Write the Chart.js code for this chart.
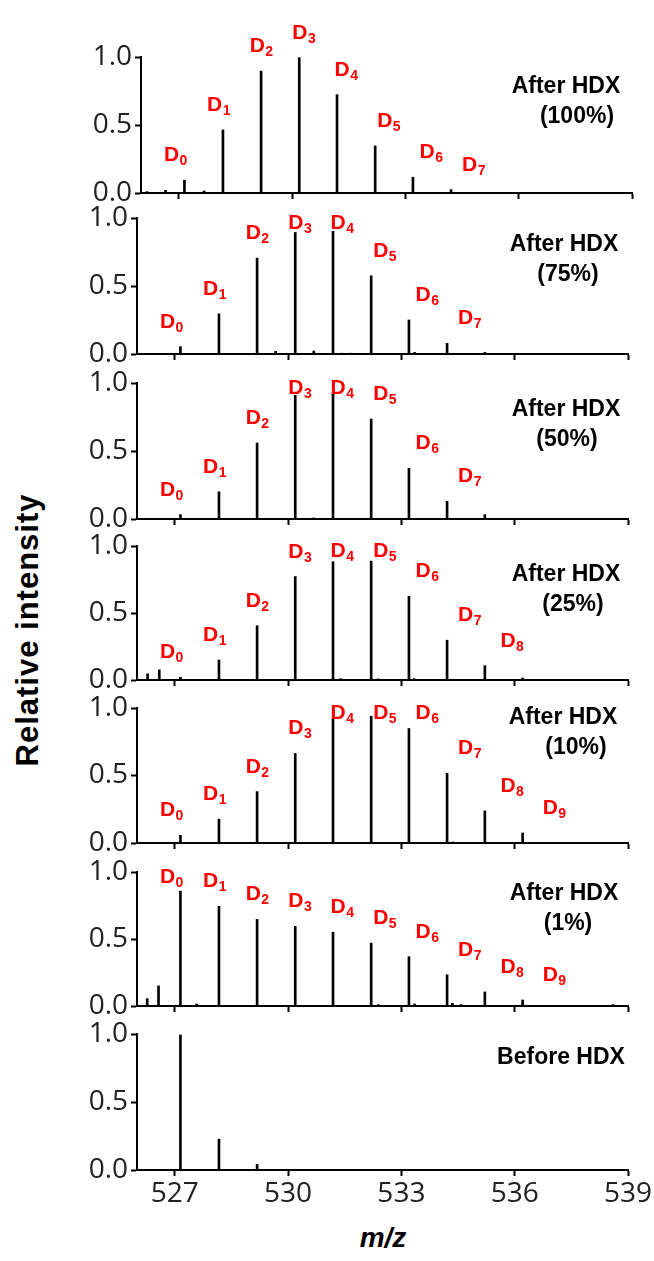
<!DOCTYPE html>
<html lang="en">
<head>
<meta charset="utf-8">
<title>HDX mass spectra</title>
<script src="https://cdn.jsdelivr.net/npm/chart.js"></script>
<style>
  body { margin: 0; background: #fff; }
  #page { position: relative; width: 654px; height: 1261px; overflow: hidden; }
  #page canvas { position: absolute; left: 0; }
  .cap { position: absolute; font: bold 23px "Liberation Sans", Arial, sans-serif; line-height: 30px; white-space: nowrap; color: #000; transform: translateX(-50%); }
  #ytitle { position: absolute; left: 28px; top: 630px; transform: translate(-50%, -50%) rotate(-90deg); font: bold 31px "Liberation Sans", Arial, sans-serif; letter-spacing: 1px; white-space: nowrap; }
  #xtitle { position: absolute; left: 383px; top: 1238px; transform: translate(-50%, -50%); font: italic bold 28px "Liberation Sans", Arial, sans-serif; }
</style>
</head>
<body>
<div id="page">
  <div id="ytitle">Relative intensity</div>
  <div id="xtitle">m/z</div>
</div>
<script>
// axis ticks
const xTicks = [527, 530, 533, 536, 539];
const yTicks = [0, 0.5, 1.0];

// m/z of the D0..D9 isotope peaks
const dMz = [527.15, 528.17, 529.18, 530.19, 531.19, 532.2, 533.2, 534.21, 535.21, 536.21];

// intensities of D0, D1, ... for every spectrum (top to bottom)
const hdx100 = [0.094, 0.464, 0.896, 0.995, 0.723, 0.346, 0.116, 0.025];
const hdx75 = [0.054, 0.295, 0.705, 0.894, 0.902, 0.575, 0.25, 0.079, 0.012];
const hdx50 = [0.032, 0.2, 0.559, 0.909, 0.926, 0.735, 0.373, 0.13, 0.032];
const hdx25 = [0.02, 0.149, 0.405, 0.772, 0.883, 0.887, 0.625, 0.297, 0.107, 0.015];
const hdx10 = [0.057, 0.177, 0.381, 0.663, 0.921, 0.939, 0.848, 0.516, 0.238, 0.074];
const hdx1 = [0.857, 0.744, 0.647, 0.594, 0.551, 0.469, 0.368, 0.233, 0.105, 0.045];
const before = [0.993, 0.227, 0.041];

// small side peaks [m/z, intensity]
const minor100 = [[526.16, 0.01], [526.65, 0.02], [527.67, 0.015], [528.7, 0.004]];
const minor75 = [[529.67, 0.02], [530.68, 0.022], [531.42, 0.006], [531.67, 0.006], [533.35, 0.012]];
const minor50 = [[529.67, 0.004], [530.68, 0.008], [535.7, 0.003], [536.2, 0.003]];
const minor25 = [[526.28, 0.046], [526.59, 0.076], [527.6, 0.005], [531.39, 0.01], [532.39, 0.008], [533.34, 0.01],
                 [534.36, 0.006], [536.42, 0.005], [536.92, 0.005], [537.42, 0.003], [538.24, 0.005], [538.6, 0.005]];
const minor10 = [[531.42, 0.005], [532.42, 0.005], [533.37, 0.005], [534.37, 0.008], [537.21, 0.005]];
const minor1 = [[526.27, 0.055], [526.57, 0.15], [527.58, 0.015], [531.37, 0.005], [532.39, 0.01], [533.35, 0.015],
                [534.35, 0.02], [534.58, 0.01], [537.24, 0.005], [538.24, 0.005], [538.6, 0.01]];
const minorBefore = [[532.17, 0.003]];

const captions = [["After HDX", "(100%)"], ["After HDX", "(75%)"], ["After HDX", "(50%)"], ["After HDX", "(25%)"],
                  ["After HDX", "(10%)"], ["After HDX", "(1%)"], ["Before HDX"]];
const labelCount = [8, 8, 8, 9, 10, 10, 0];

const spectra = [hdx100, hdx75, hdx50, hdx25, hdx10, hdx1, before];
const minors = [minor100, minor75, minor50, minor25, minor10, minor1, minorBefore];

// layout of the panels (pixels)
const oneY = [57, 218, 383, 546, 708, 872, 1034];
const zeroY = [193, 354, 519, 680, 843, 1006, 1170];
const shiftX = [4, 0, 0, 0, 0, 0, 0];
const capPos = [[566, 28, 577], [564, 25, 568], [566, 25, 567], [566, 27, 573], [563, 8, 576], [564, 20, 568], [561, 22]];

const tickFont = { family: '"Open Sans", sans-serif', size: 28 };

// red D0..Dn labels above the isotope peaks
const dLabels = {
  id: 'dLabels',
  afterDatasetsDraw(chart, args, opts) {
    const n = opts.count;
    if (!n) return;
    const { ctx, chartArea } = chart;
    const xs = chart.scales.x, ys = chart.scales.y;
    const big = 'bold 21px "Liberation Sans", Arial, sans-serif';
    const small = 'bold 14px "Liberation Sans", Arial, sans-serif';
    ctx.save();
    ctx.fillStyle = '#ff0000';
    ctx.textBaseline = 'alphabetic';
    for (let k = 0; k < n; k++) {
      const px = xs.getPixelForValue(dMz[k]) - 9 + 4.5 * k;
      let cy = ys.getPixelForValue(opts.values[k]) - 26;
      cy = Math.max(cy, chartArea.top + opts.minTop);
      ctx.font = big;
      const wD = ctx.measureText('D').width;
      ctx.font = small;
      const wS = ctx.measureText(String(k)).width;
      const x0 = px - (wD + wS) / 2;
      const base = cy + 7;
      ctx.font = big;
      ctx.fillText('D', x0, base);
      ctx.font = small;
      ctx.fillText(String(k), x0 + wD + 0.5, base + 4);
    }
    ctx.restore();
  }
};

const page = document.getElementById('page');

spectra.forEach((vals, i) => {
  const last = i === spectra.length - 1;
  const canvasTop = Math.max(0, oneY[i] - 40);
  const padTop = oneY[i] - canvasTop;
  const xH = last ? 40 : 8;
  const padBottom = last ? 2 : 14;
  const h = padTop + (zeroY[i] - oneY[i]) + xH + padBottom;

  const cv = document.createElement('canvas');
  cv.width = 654;
  cv.height = h;
  cv.style.top = canvasTop + 'px';
  page.appendChild(cv);

  const pts = vals.map((v, k) => ({ x: dMz[k], y: v }))
    .concat(minors[i].map(p => ({ x: p[0], y: p[1] })));

  new Chart(cv, {
    type: 'bar',
    data: {
      datasets: [{
        data: pts,
        backgroundColor: '#000',
        borderWidth: 0,
        barThickness: 2
      }]
    },
    options: {
      responsive: false,
      animation: false,
      devicePixelRatio: 1,
      layout: { padding: { top: padTop, right: 26 - shiftX[i], bottom: padBottom, left: 0 } },
      scales: {
        x: {
          type: 'linear',
          min: 526,
          max: 539,
          offset: false,
          afterBuildTicks: s => { s.ticks = xTicks.map(v => ({ value: v })); },
          afterFit: s => { s.height = xH; },
          border: { display: true, color: '#000', width: 2 },
          grid: { display: true, offset: false, drawOnChartArea: false, drawTicks: true, tickLength: 6, tickWidth: 2, tickColor: '#000' },
          ticks: { display: last, font: tickFont, color: '#222', padding: 1, maxRotation: 0 }
        },
        y: {
          min: 0,
          max: 1,
          afterBuildTicks: s => { s.ticks = yTicks.map(v => ({ value: v })); },
          afterFit: s => { s.width = 137 + shiftX[i]; },
          border: { display: true, color: '#000', width: 2 },
          grid: { display: true, drawOnChartArea: false, drawTicks: true, tickLength: 6, tickWidth: 2, tickColor: '#000' },
          ticks: { font: tickFont, color: '#222', padding: 3, callback: v => v.toFixed(1) }
        }
      },
      plugins: {
        legend: { display: false },
        tooltip: { enabled: false },
        dLabels: { count: labelCount[i], values: vals, minTop: i === 0 ? -30 : 4 }
      }
    },
    plugins: [dLabels]
  });

  // caption text
  const cp = capPos[i];
  captions[i].forEach((line, j) => {
    const d = document.createElement('div');
    d.className = 'cap';
    d.textContent = line;
    d.style.left = (j === 0 ? cp[0] : cp[2]) + 'px';
    d.style.top = (oneY[i] + cp[1] - 15 + j * 30) + 'px';
    page.appendChild(d);
  });
});
</script>
</body>
</html>
